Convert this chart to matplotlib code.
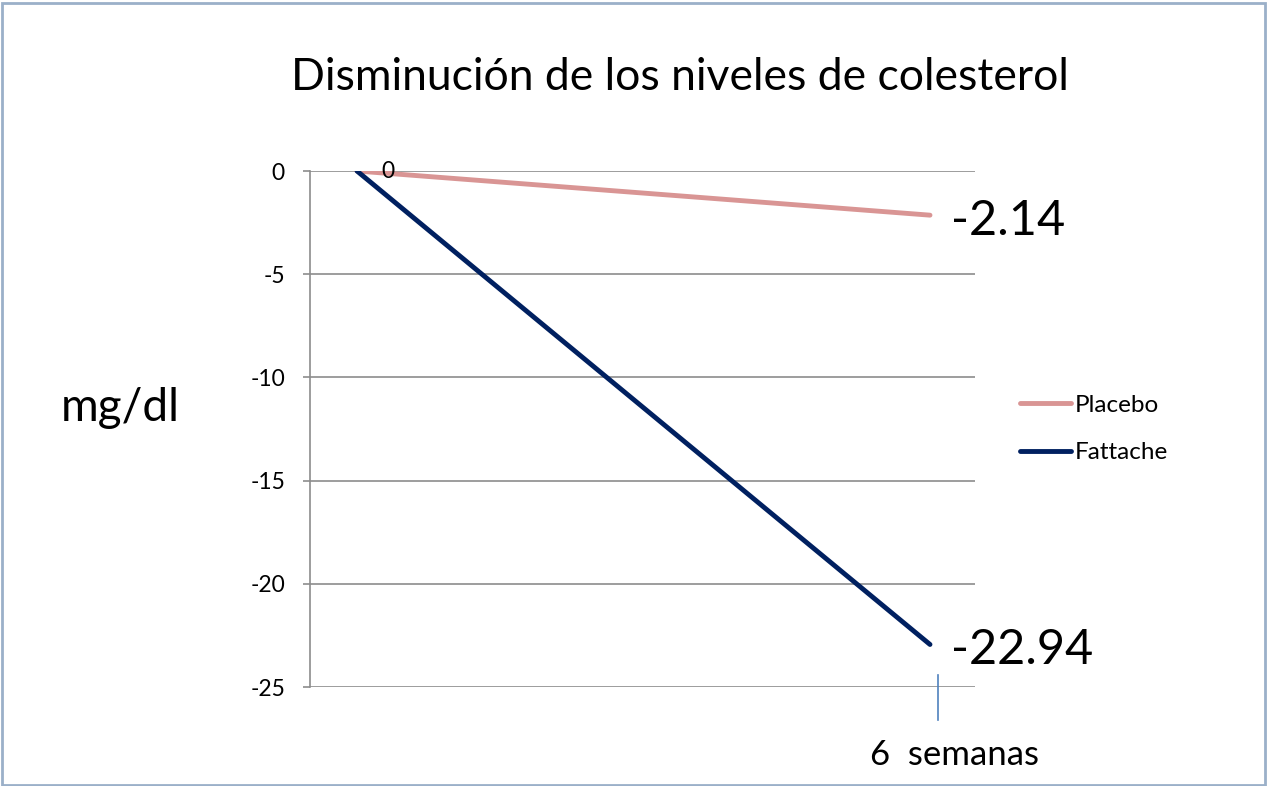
import matplotlib
matplotlib.use("Agg")
import matplotlib.pyplot as plt
from matplotlib.lines import Line2D
from matplotlib.patches import Rectangle

plt.rcParams['font.family'] = ['Lato', 'DejaVu Sans']

x_pos = [0, 1]
placebo = [0, -2.14]
fattache = [0, -22.94]
series_names = ["Placebo", "Fattache"]
yticks = [0, -5, -10, -15, -20, -25]
title = "Disminución de los niveles de colesterol"
ylabel = "mg/dl"
xlabel = "6  semanas"

c_placebo = "#d99594"
c_fattache = "#002060"
grid_c = "#8c8c8c"

fig = plt.figure(figsize=(12.67, 7.86), dpi=100)
ax = fig.add_axes([310/1267, 1-687/786, 665/1267, 516/786])

ax.plot(x_pos, placebo, color=c_placebo, lw=3.5, solid_capstyle='round', label=series_names[0], zorder=3)
ax.plot(x_pos, fattache, color=c_fattache, lw=3.5, solid_capstyle='round', label=series_names[1], zorder=3)

ax.set_ylim(-25, 0)
ax.set_xlim(-47/573, 1 + 45/573)
ax.set_yticks(yticks)
ax.set_yticklabels([str(t) for t in yticks], fontsize=16.5)
ax.set_xticks([])
for t in yticks:
    ax.axhline(t, color=grid_c, lw=1.2, zorder=1)
for s in ['top', 'right', 'bottom']:
    ax.spines[s].set_visible(False)
ax.spines['left'].set_color(grid_c)
ax.spines['left'].set_linewidth(1.2)
ax.tick_params(axis='y', length=5, width=1.2, color=grid_c, pad=13)

# data labels
ax.annotate(f"{placebo[0]:g}", (x_pos[0], placebo[0]), xytext=(22.5, -0.5), textcoords='offset points',
            ha='center', va='center', fontsize=16.5, zorder=4)
ax.annotate(f"{placebo[1]:g}", (x_pos[1], placebo[1]), xytext=(15, -4), textcoords='offset points',
            ha='left', va='center', fontsize=35)
ax.annotate(f"{fattache[1]:g}", (x_pos[1], fattache[1]), xytext=(15, -4), textcoords='offset points',
            ha='left', va='center', fontsize=35)

fig.text(680/1267, 1-78/786, title, ha='center', va='center', fontsize=32)
fig.text(120/1267, 1-408/786, ylabel, ha='center', va='center', fontsize=33)
fig.text(955/1267, 1-755/786, xlabel, ha='center', va='center', fontsize=25)

# blue tick mark
fig.add_artist(Line2D([938/1267, 938/1267], [1-675/786, 1-720/786], color="#4f81bd", lw=1.2))

# legend
leg = fig.legend(handles=ax.get_lines(), labels=series_names, loc='center left',
                 bbox_to_anchor=(998/1267, 1-429/786), frameon=False, fontsize=17.5,
                 handlelength=2.1, handletextpad=0.15, labelspacing=1.1)

# border
fig.add_artist(Rectangle((1.5/1267, 1.5/786), 1-4/1267, 1-4/786, transform=fig.transFigure,
                         fill=False, edgecolor="#9bb0c9", lw=2))

fig.savefig("out.png", dpi=100)
